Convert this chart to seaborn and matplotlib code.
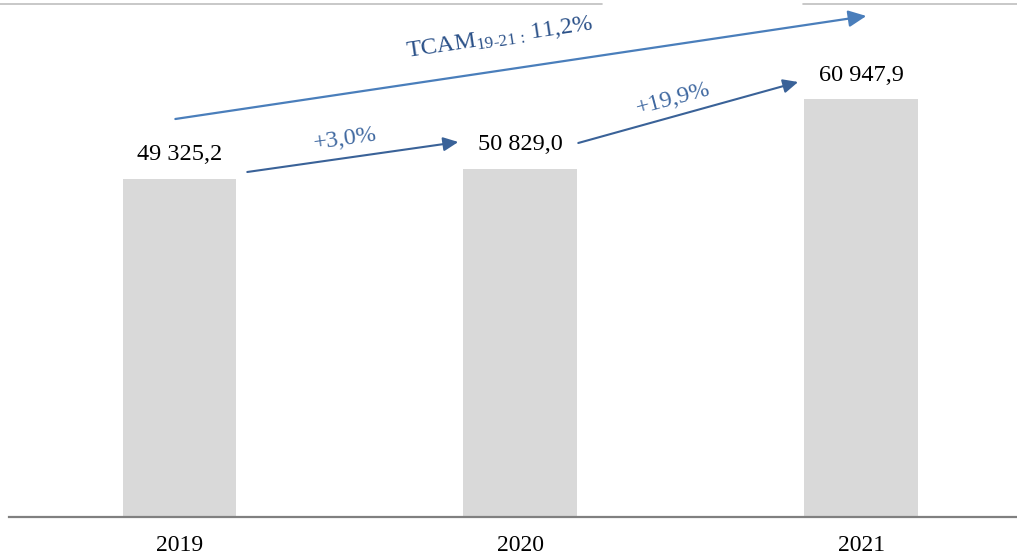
import matplotlib
matplotlib.use("Agg")
import matplotlib.pyplot as plt
import seaborn as sns
import pandas as pd
from matplotlib.lines import Line2D

years = ["2019", "2020", "2021"]
values = [49325.2, 50829.0, 60947.9]
value_labels = ["49 325,2", "50 829,0", "60 947,9"]
growth_labels = ["+3,0%", "+19,9%"]
cagr_label = r"TCAM$_{\text{19-21 :}}$ 11,2%"

sns.set_style("white")
plt.rcParams["font.family"] = ["Liberation Serif", "DejaVu Serif"]
plt.rcParams["mathtext.fontset"] = "custom"
plt.rcParams["mathtext.rm"] = "Liberation Serif"
plt.rcParams["mathtext.it"] = "Liberation Serif:italic"
plt.rcParams["mathtext.bf"] = "Liberation Serif:bold"

fig = plt.figure(figsize=(10.17, 5.58), dpi=100)
ax = fig.add_axes([9 / 1017, 41 / 558, 1008 / 1017, 517 / 558])

df = pd.DataFrame({"year": years, "value": values})
sns.barplot(data=df, x="year", y="value", color="#D9D9D9", saturation=1,
            width=0.334, ax=ax, edgecolor="none")

ax.set_xlim(-0.5, 2.457)
ax.set_ylim(0, 75440)
for s in ["top", "right", "left"]:
    ax.spines[s].set_visible(False)
ax.spines["bottom"].set_color("#808080")
ax.spines["bottom"].set_linewidth(1.6)
ax.set_yticks([])
ax.set_xlabel("")
ax.set_ylabel("")
ax.tick_params(axis="x", length=0, pad=13, labelsize=17, labelcolor="black")

for i, (v, lab) in enumerate(zip(values, value_labels)):
    ax.annotate(lab, xy=(i, v), xytext=(0, 24), textcoords="offset pixels",
                ha="center", va="center", fontsize=17.5, color="black")

arrow_dark = "#3A6298"
text_dark = "#3F68A0"
# year-over-year arrows
ax.annotate("", xy=(0.818, 54720), xytext=(0.199, 50343),
            arrowprops=dict(arrowstyle="-|>,head_length=0.75,head_width=0.35",
                            mutation_scale=12, color=arrow_dark, lw=1.5,
                            shrinkA=0, shrinkB=0))
ax.annotate("", xy=(1.815, 63476), xytext=(1.170, 54575),
            arrowprops=dict(arrowstyle="-|>,head_length=0.75,head_width=0.35",
                            mutation_scale=12, color=arrow_dark, lw=1.5,
                            shrinkA=0, shrinkB=0))
ax.text(0.485, 55158, growth_labels[0], ha="center", va="center", rotation=8,
        rotation_mode="anchor", fontsize=17.5, color=text_dark)
ax.text(1.449, 60996, growth_labels[1], ha="center", va="center", rotation=15,
        rotation_mode="anchor", fontsize=17.5, color=text_dark)

# CAGR arrow
ax.annotate("", xy=(2.015, 73107), xytext=(-0.012, 58077),
            arrowprops=dict(arrowstyle="-|>,head_length=0.9,head_width=0.42",
                            mutation_scale=12, color="#4A7EBB", lw=1.6,
                            shrinkA=0, shrinkB=0), annotation_clip=False)
ax.text(0.941, 69897, cagr_label, ha="center", va="center", rotation=8.5,
        rotation_mode="anchor", fontsize=17.5, color="#2A5088")

# top border line
y_top = 1 - 4 / 558
fig.add_artist(Line2D([0, 602 / 1017], [y_top, y_top], color="#BFBFBF", lw=1.2))
fig.add_artist(Line2D([803 / 1017, 1], [y_top, y_top], color="#BFBFBF", lw=1.2))

fig.savefig("out.png", dpi=100)
